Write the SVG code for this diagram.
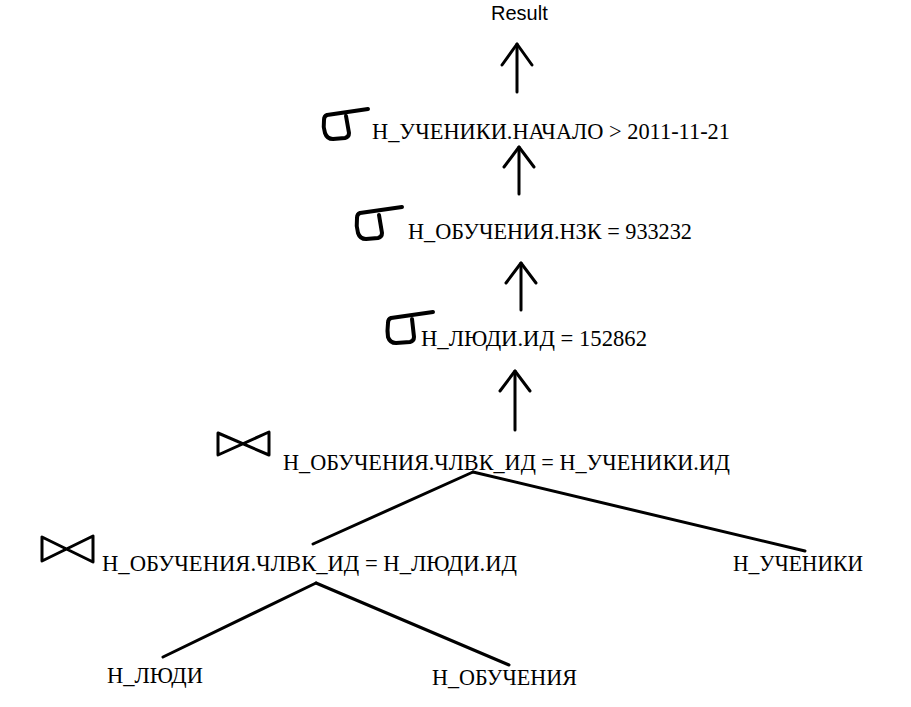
<svg xmlns="http://www.w3.org/2000/svg" width="911" height="707" viewBox="0 0 911 707">
<style>
.bg{fill:#ffffff}
.t{font-family:"Liberation Serif","Times New Roman",serif;font-size:22.5px;fill:#000000}
.r{font-family:"Liberation Sans",Arial,sans-serif;font-size:20px;fill:#000000}
.ln{fill:none;stroke:#000000;stroke-width:3;stroke-linecap:round;stroke-linejoin:round}
.sg{fill:none;stroke:#000000;stroke-width:4;stroke-linecap:round;stroke-linejoin:round}
</style>
<rect class="bg" x="0" y="0" width="911" height="707"/>
<g id="connectors">
<g id="arrow-result">
<path class="ln" d="M517,92 L517,44"/>
<path class="ln" d="M502,65 L517,44 L532,65"/>
</g>
<g id="arrow-sel1">
<path class="ln" d="M519,194 L519,147"/>
<path class="ln" d="M504,167 L519,147 L534,167"/>
</g>
<g id="arrow-sel2">
<path class="ln" d="M521,310 L521,263"/>
<path class="ln" d="M506,283 L521,263 L536,283"/>
</g>
<g id="arrow-sel3">
<path class="ln" d="M515,430 L515,371"/>
<path class="ln" d="M500,391 L515,371 L530,391"/>
</g>
<path id="join1-left" class="ln" d="M473,472 L313,544"/>
<path id="join1-right" class="ln" d="M473,472 L805,551"/>
<path id="join2-left" class="ln" d="M316,583 L163,657"/>
<path id="join2-right" class="ln" d="M316,583 L509,665"/>
</g>
<g id="result">
<text class="r" x="491" y="20">Result</text>
</g>
<g id="select1">
<path class="sg" d="M368,109 L327,115 Q324,116 324,120 Q323,127 325,133 Q327,139 333,139 L345,138 Q349,137 349,133 L346,116"/>
<text class="t" x="372" y="139" textLength="358" lengthAdjust="spacingAndGlyphs">Н_УЧЕНИКИ.НАЧАЛО &gt; 2011-11-21</text>
</g>
<g id="select2">
<path class="sg" d="M402,207 L360,213 Q357,214 357,218 Q356,226 358,233 Q360,239 366,239 L378,238 Q382,237 382,233 L379,215"/>
<text class="t" x="408" y="239" textLength="284" lengthAdjust="spacingAndGlyphs">Н_ОБУЧЕНИЯ.НЗК = 933232</text>
</g>
<g id="select3">
<path class="sg" d="M433,312 L391,318 Q388,319 388,323 Q387,331 388,337 Q390,343 396,343 L410,342 Q414,341 414,337 L412,319"/>
<text class="t" x="421" y="346" textLength="226" lengthAdjust="spacingAndGlyphs">Н_ЛЮДИ.ИД = 152862</text>
</g>
<g id="join1">
<path class="ln" d="M218,433 L218,455 L269,432 L269,455 Z"/>
<text class="t" x="283" y="470" textLength="447" lengthAdjust="spacingAndGlyphs">Н_ОБУЧЕНИЯ.ЧЛВК_ИД = Н_УЧЕНИКИ.ИД</text>
</g>
<g id="join2">
<path class="ln" d="M42,537 L42,561 L93,536 L93,562 Z"/>
<text class="t" x="102" y="571" textLength="415" lengthAdjust="spacingAndGlyphs">Н_ОБУЧЕНИЯ.ЧЛВК_ИД = Н_ЛЮДИ.ИД</text>
</g>
<g id="ucheniki">
<text class="t" x="733" y="571" textLength="130" lengthAdjust="spacingAndGlyphs">Н_УЧЕНИКИ</text>
</g>
<g id="lyudi">
<text class="t" x="107" y="683" textLength="96" lengthAdjust="spacingAndGlyphs">Н_ЛЮДИ</text>
</g>
<g id="obucheniya">
<text class="t" x="432" y="685" textLength="145" lengthAdjust="spacingAndGlyphs">Н_ОБУЧЕНИЯ</text>
</g>
</svg>
